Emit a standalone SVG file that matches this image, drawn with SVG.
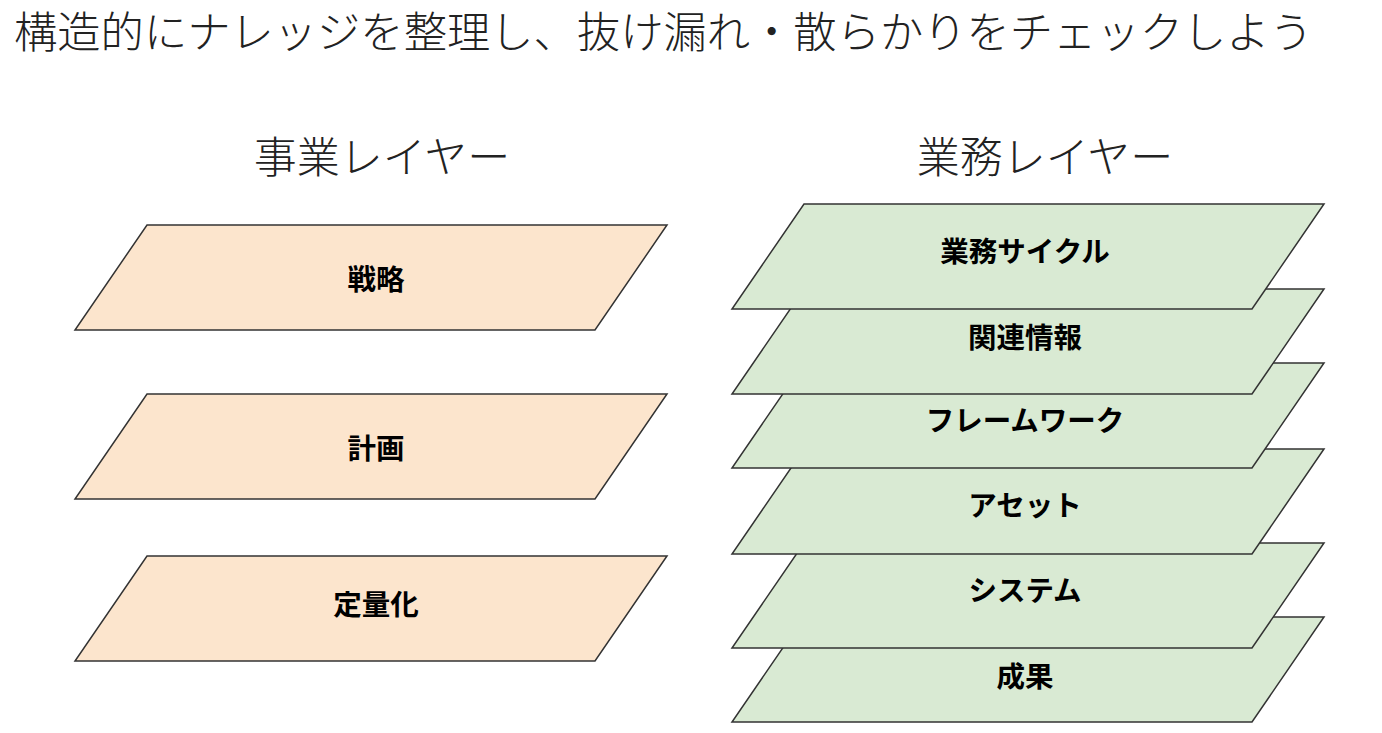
<svg xmlns="http://www.w3.org/2000/svg" width="1382" height="733" viewBox="0 0 1382 733">
<style>
.title{font-family:"Noto Sans CJK JP","Noto Sans",sans-serif;font-size:43.3px;font-weight:300;fill:#222}
.head{font-family:"Noto Sans CJK JP","Noto Sans",sans-serif;font-size:43px;font-weight:300;fill:#222;text-anchor:middle}
.lbl{font-family:"Noto Sans CJK JP","Noto Sans",sans-serif;font-size:28.5px;font-weight:bold;fill:#000;text-anchor:middle;dominant-baseline:central}
.biz{fill:#fce5cd;stroke:#333;stroke-width:1.5}
.ops{fill:#d9ead3;stroke:#333;stroke-width:1.5}
</style>
<rect width="1382" height="733" fill="#fff"/>
<text class="title" x="14" y="48">構造的にナレッジを整理し、抜け漏れ・散らかりをチェックしよう</text>
<text class="head" x="382" y="173">事業レイヤー</text>
<text class="head" x="1045" y="173">業務レイヤー</text>
<g id="business">
<g id="b1"><polygon class="biz" points="147,225 667,225 595,330 75,330"/><text class="lbl" x="376" y="277">戦略</text></g>
<g id="b2"><polygon class="biz" points="147,394 667,394 595,499 75,499"/><text class="lbl" x="376" y="446">計画</text></g>
<g id="b3"><polygon class="biz" points="147,556 667,556 595,661 75,661"/><text class="lbl" x="376" y="602">定量化</text></g>
</g>
<g id="operations">
<g id="o6"><polygon class="ops" points="804,617 1324,617 1252,722 732,722"/><text class="lbl" x="1025" y="674">成果</text></g>
<g id="o5"><polygon class="ops" points="804,543 1324,543 1252,648 732,648"/><text class="lbl" x="1025" y="588">システム</text></g>
<g id="o4"><polygon class="ops" points="804,449 1324,449 1252,554 732,554"/><text class="lbl" x="1025" y="503">アセット</text></g>
<g id="o3"><polygon class="ops" points="804,363 1324,363 1252,468 732,468"/><text class="lbl" x="1025" y="418">フレームワーク</text></g>
<g id="o2"><polygon class="ops" points="804,289 1324,289 1252,394 732,394"/><text class="lbl" x="1025" y="335">関連情報</text></g>
<g id="o1"><polygon class="ops" points="804,204 1324,204 1252,309 732,309"/><text class="lbl" x="1025" y="249">業務サイクル</text></g>
</g>
<g id="connectors"></g>
</svg>
